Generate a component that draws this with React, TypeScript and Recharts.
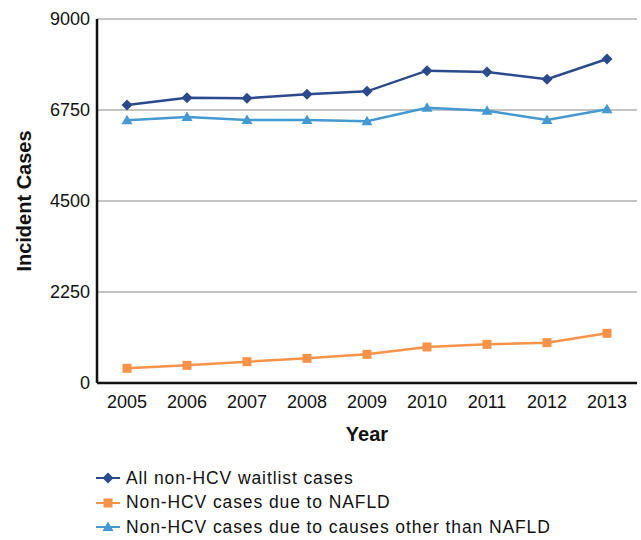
import { LineChart, Line, XAxis, YAxis, CartesianGrid, Legend } from 'recharts';

const years = ['2005', '2006', '2007', '2008', '2009', '2010', '2011', '2012', '2013'];
const allNonHcv = [6873, 7054, 7039, 7138, 7212, 7722, 7690, 7509, 8011];
const nafld = [363, 437, 527, 610, 709, 890, 956, 997, 1229];
const otherThanNafld = [6495, 6577, 6503, 6503, 6470, 6807, 6733, 6503, 6767];
const yTicks = [0, 2250, 4500, 6750, 9000];

const DARK = '#2b4a8b';
const ORANGE = '#f79249';
const LIGHT = '#4499d0';
const FONT = '"Liberation Sans", Arial, sans-serif';

const data = years.map((year, i) => ({
    year,
    all: allNonHcv[i],
    nafld: nafld[i],
    other: otherThanNafld[i],
}));

type Shape = 'diamond' | 'square' | 'triangle';

function marker(shape: Shape, cx: number, cy: number, color: string, key?: string) {
    if (shape === 'diamond') {
        const r = 5.5;
        return <path key={key} d={`M${cx},${cy - r}L${cx + r},${cy}L${cx},${cy + r}L${cx - r},${cy}Z`} fill={color} />;
    }
    if (shape === 'square') {
        return <rect key={key} x={cx - 4.5} y={cy - 4.5} width={9} height={9} fill={color} />;
    }
    return <path key={key} d={`M${cx},${cy - 5.5}L${cx + 5.5},${cy + 4}L${cx - 5.5},${cy + 4}Z`} fill={color} />;
}

const dotFor = (shape: Shape, color: string) => (props: any) =>
    marker(shape, props.cx, props.cy, color, `${shape}-${props.index}`);

const legendItems = [
    { label: 'All non-HCV waitlist cases', color: DARK, shape: 'diamond' as Shape },
    { label: 'Non-HCV cases due to NAFLD', color: ORANGE, shape: 'square' as Shape },
    { label: 'Non-HCV cases due to causes other than NAFLD', color: LIGHT, shape: 'triangle' as Shape },
];

function LegendContent() {
    return (
        <div style={{ fontFamily: FONT, fontSize: 17.5, letterSpacing: 0.9, color: '#111' }}>
            {legendItems.map(item => (
                <div key={item.label} style={{ display: 'flex', alignItems: 'center', height: 24.5 }}>
                    <svg width={31} height={14}>
                        <line x1={1} y1={7} x2={25} y2={7} stroke={item.color} strokeWidth={2} />
                        {marker(item.shape, 13, 7, item.color)}
                    </svg>
                    <span>{item.label}</span>
                </div>
            ))}
        </div>
    );
}

function YLabel(props: any) {
    const vb = props.viewBox;
    const x = 24;
    const y = vb.y + vb.height / 2;
    return (
        <text x={x} y={y} transform={`rotate(-90, ${x}, ${y})`} textAnchor="middle" dominantBaseline="central"
            fontFamily={FONT} fontWeight="bold" fontSize={20} fill="#111">
            Incident Cases
        </text>
    );
}

export default function App() {
    return (
        <div style={{ position: 'absolute', left: 0, top: 0, background: '#fff' }}>
            <LineChart width={641} height={540} data={data} margin={{ top: 19, right: 4, left: 0, bottom: 97 }}>
                <CartesianGrid vertical={false} stroke="#c4c4c4" strokeWidth={2} />
                <XAxis
                    dataKey="year"
                    padding={{ left: 30, right: 30 }}
                    tickLine={false}
                    tickSize={10}
                    axisLine={{ stroke: '#111', strokeWidth: 2.5 }}
                    tick={{ fill: '#111', fontSize: 18, fontFamily: FONT }}
                    height={60}
                    label={{ value: 'Year', position: 'insideBottom', offset: 2, fill: '#111', fontSize: 20, fontWeight: 'bold', fontFamily: FONT }}
                />
                <YAxis
                    domain={[0, 9000]}
                    ticks={yTicks}
                    interval={0}
                    width={97}
                    tickLine={false}
                    tickSize={5}
                    tickMargin={2}
                    axisLine={{ stroke: '#111', strokeWidth: 2.5 }}
                    tick={{ fill: '#111', fontSize: 18, fontFamily: FONT }}
                    label={YLabel}
                />
                <Legend
                    layout="vertical"
                    align="center"
                    verticalAlign="middle"
                    content={LegendContent}
                    wrapperStyle={{ position: 'absolute', left: 95, top: 466, width: 540, height: 75 }}
                />
                <Line dataKey="all" name="All non-HCV waitlist cases" stroke={DARK} strokeWidth={2.5}
                    dot={dotFor('diamond', DARK)} activeDot={false} isAnimationActive={false} />
                <Line dataKey="nafld" name="Non-HCV cases due to NAFLD" stroke={ORANGE} strokeWidth={2.5}
                    dot={dotFor('square', ORANGE)} activeDot={false} isAnimationActive={false} />
                <Line dataKey="other" name="Non-HCV cases due to causes other than NAFLD" stroke={LIGHT} strokeWidth={2.5}
                    dot={dotFor('triangle', LIGHT)} activeDot={false} isAnimationActive={false} />
            </LineChart>
        </div>
    );
}
